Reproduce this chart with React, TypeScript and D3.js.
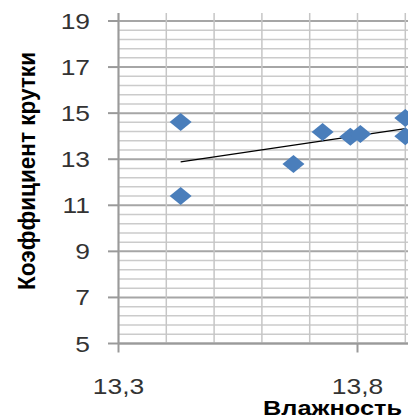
import React from "react";
import * as d3 from "d3";

const moisture = [13.43, 13.43, 13.666, 13.727, 13.785, 13.806, 13.9, 13.9];
const twist = [14.62, 11.4, 12.79, 14.18, 13.97, 14.1, 14.79, 14.0];
const yTicks = [5, 7, 9, 11, 13, 15, 17, 19];
const xTickLabels = ["13,3", "13,8"];
const xTickValues = [13.3, 13.8];
const xTitle = "Влажность";
const yTitle = "Коэффициент крутки";

const W = 408;
const H = 419;
const FONT = "'Liberation Sans', Arial, sans-serif";
const SX = 1.2;

export default function App() {
  const x = d3.scaleLinear().domain([13.3, 14.3]).range([118.5, 596.5]);
  const y = d3.scaleLinear().domain([5, 19]).range([343.5, 21]);

  const xMinor = d3.range(0, 11).map((i) => 13.3 + i * 0.1);
  const yMinor = d3.range(0, 36).map((i) => 5 + i * 0.4).filter((v) => v <= 19.001);

  const mx = d3.mean(moisture) as number;
  const my = d3.mean(twist) as number;
  let sxy = 0;
  let sxx = 0;
  moisture.forEach((v, i) => {
    sxy += (v - mx) * (twist[i] - my);
    sxx += (v - mx) * (v - mx);
  });
  const slope = sxy / sxx;
  const icpt = my - slope * mx;
  const x0 = d3.min(moisture) as number;
  const x1 = d3.max(moisture) as number;
  const trend = d3.line<number>()
    .x((d) => x(d))
    .y((d) => y(icpt + slope * d))([x0, x1]);

  const diamond = (cx: number, cy: number) =>
    `M${cx},${cy - 9}L${cx + 11},${cy}L${cx},${cy + 9}L${cx - 11},${cy}Z`;

  return (
    <svg width={W} height={H} style={{ position: "absolute", left: 0, top: 0, background: "#fff" }}>
      <rect x={0} y={0} width={W} height={H} fill="#fff" />
      {yMinor.map((v, i) => {
        const isMajor = Math.abs(((v - 5) / 2) - Math.round((v - 5) / 2)) < 1e-6;
        return (
          <line key={"ym" + i} x1={x(13.3)} x2={W} y1={y(v)} y2={y(v)}
            stroke={isMajor ? "#a6a6a6" : "#cbcbcb"} strokeWidth={isMajor ? 2 : 1.5} />
        );
      })}
      {xMinor.map((v, i) => (
        <line key={"xm" + i} x1={x(v)} x2={x(v)} y1={y(19) - 8} y2={y(5)}
          stroke="#c6c6c6" strokeWidth={1.5} />
      ))}
      <line x1={x(13.3)} x2={x(13.3)} y1={y(19) - 8} y2={y(5)} stroke="#9a9a9a" strokeWidth={2} />
      <line x1={x(13.3)} x2={W} y1={y(5)} y2={y(5)} stroke="#9a9a9a" strokeWidth={2} />
      {yTicks.map((v) => (
        <line key={"yt" + v} x1={108} x2={x(13.3)} y1={y(v)} y2={y(v)} stroke="#9a9a9a" strokeWidth={2} />
      ))}
      {xTickValues.map((v) => (
        <line key={"xt" + v} x1={x(v)} x2={x(v)} y1={y(5)} y2={y(5) + 9} stroke="#9a9a9a" strokeWidth={2} />
      ))}
      <path d={trend ?? ""} stroke="#000" strokeWidth={1.3} fill="none" />
      {moisture.map((v, i) => (
        <path key={"p" + i} d={diamond(x(v), y(twist[i]))} fill="#4a7ebb" />
      ))}
      {yTicks.map((v) => (
        <g key={"yl" + v} transform={`translate(90,${y(v) + 8}) scale(${SX},1)`}>
          <text textAnchor="end" fontFamily={FONT} fontSize={22} fill="#333">{v}</text>
        </g>
      ))}
      {xTickValues.map((v, i) => (
        <g key={"xl" + v} transform={`translate(${x(v)},394) scale(${SX},1)`}>
          <text textAnchor="middle" fontFamily={FONT} fontSize={22} fill="#333">{xTickLabels[i]}</text>
        </g>
      ))}
      <text x={332.5} y={415} textAnchor="middle" fontFamily={FONT} fontSize={20} fontWeight="bold" fill="#000"
        textLength={139} lengthAdjust="spacingAndGlyphs">{xTitle}</text>
      <g transform={`translate(35,171) scale(${SX},1) rotate(-90)`}>
        <text textAnchor="middle" fontFamily={FONT} fontSize={20} fontWeight="bold" fill="#000"
          textLength={238} lengthAdjust="spacingAndGlyphs">{yTitle}</text>
      </g>
    </svg>
  );
}
